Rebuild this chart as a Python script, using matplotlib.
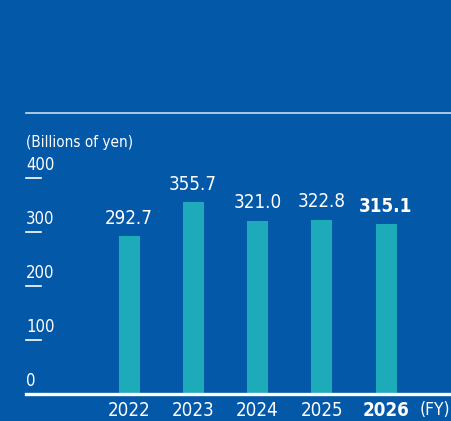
import matplotlib.pyplot as plt
from matplotlib.lines import Line2D

plt.rcParams['font.family'] = ['DejaVu Sans']
plt.rcParams['font.stretch'] = 'condensed'

# Data
years = ['2022', '2023', '2024', '2025', '2026']
values = [292.7, 355.7, 321.0, 322.8, 315.1]
tick_values = [0, 100, 200, 300, 400]
unit_label = '(Billions of yen)'
fy_label = '(FY)'

bg = '#0358A7'
bar_color = '#1DAAB9'
W, H = 452, 421

fig = plt.figure(figsize=(W / 100, H / 100), dpi=100, facecolor=bg)
ax = fig.add_axes([26 / W, 27 / H, (W - 26) / W, 216 / H])
ax.set_facecolor(bg)

x = list(range(len(years)))
step = 64.25
x_left = (26 - 129) / step
x_right = (W - 129) / step
ax.bar(x, values, width=21 / step, color=bar_color, zorder=2)
ax.set_xlim(x_left, x_right)
ax.set_ylim(0, 400)
ax.axis('off')

# baseline
ax.axhline(0, color='white', lw=2.4, zorder=3, clip_on=False)

# y tick labels with short lines below
for v in tick_values:
    ax.annotate(str(v), (x_left, v), xytext=(0, 3), textcoords='offset points',
                ha='left', va='bottom', color='white', fontsize=12,
                annotation_clip=False)
    if v > 0:
        ax.plot([x_left, x_left + 15 / step], [v, v], color='white', lw=1.2,
                clip_on=False)

# value labels
for i, v in enumerate(values):
    ax.annotate(f'{v:.1f}', (i, v), xytext=(0, 6), textcoords='offset points',
                ha='center', va='bottom', color='white', fontsize=13.5,
                fontweight='bold' if i == len(values) - 1 else 'normal',
                annotation_clip=False)

# year labels
for i, y in enumerate(years):
    ax.annotate(y, (i, 0), xytext=(0, -5), textcoords='offset points',
                ha='center', va='top', color='white', fontsize=13.5,
                fontweight='bold' if i == len(years) - 1 else 'normal',
                annotation_clip=False)
ax.annotate(fy_label, ((435 - 129) / step, 0), xytext=(0, -5),
            textcoords='offset points', ha='center', va='top', color='white',
            fontsize=12.5, annotation_clip=False)

# unit label and top rule
fig.text(26 / W, 1 - 147 / H, unit_label, color='white', fontsize=11,
         ha='left', va='baseline')
fig.add_artist(Line2D([26 / W, 1], [1 - 113 / H, 1 - 113 / H],
                      transform=fig.transFigure, color='#C9DDF0', lw=1.2))

fig.savefig('out.png', dpi=100, facecolor=bg)
